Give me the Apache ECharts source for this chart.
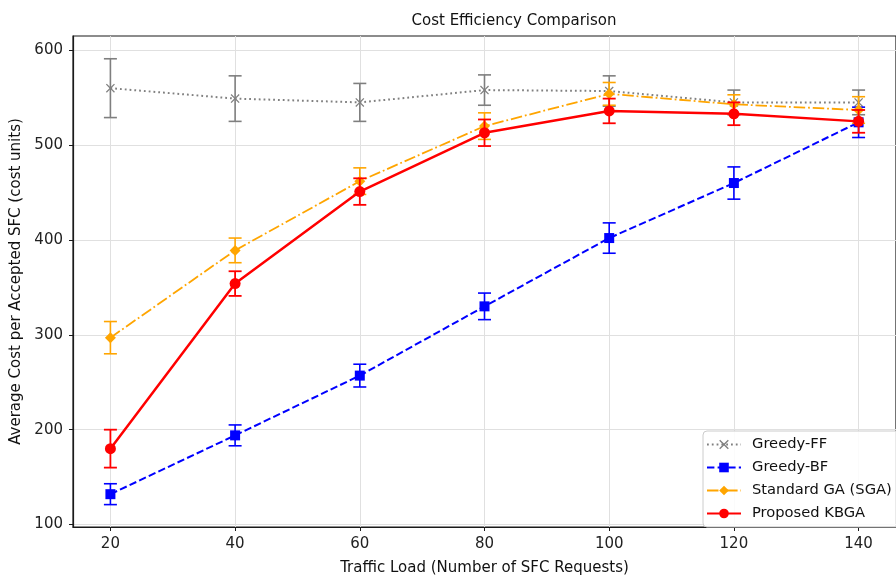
<!DOCTYPE html>
<html>
<head>
<meta charset="utf-8">
<script src="https://cdn.jsdelivr.net/npm/echarts@6/dist/echarts.min.js"></script>
<style>
  html, body { margin: 0; padding: 0; background: #fff; }
  #chart { width: 896px; height: 581px; }
</style>
</head>
<body>
<div id="chart"></div>
<script>
// traffic load (x) and tick values
const loads = [20, 40, 60, 80, 100, 120, 140];
const yTicks = [100, 200, 300, 400, 500, 600];

// mean cost per accepted SFC and error (+/-) per algorithm
const ffMean = [560, 549, 545, 558, 557, 545, 545];
const ffErr = [31, 24, 20, 16, 16, 13, 13];
const bfMean = [132, 194, 257, 330, 402, 460, 524];
const bfErr = [11, 11, 12, 14, 16, 17, 16];
const sgaMean = [297, 389, 462, 520, 554, 543, 537];
const sgaErr = [17, 13, 14, 14, 12, 10, 14];
const kbgaMean = [180, 354, 451, 513, 536, 533, 525];
const kbgaErr = [20, 13, 14, 14, 13, 12, 12];

const FONT = '"DejaVu Sans", sans-serif';
const X_SYMBOL = 'path://M0,1L1,0L5,4L9,0L10,1L6,5L10,9L9,10L5,6L1,10L0,9L4,5Z';

function pairs(ys) {
  return loads.map((x, i) => [x, ys[i]]);
}
function errData(ys, es) {
  return loads.map((x, i) => [x, ys[i] - es[i], ys[i] + es[i]]);
}

function errorSeries(name, ys, es, color, width, z) {
  return {
    name: name,
    type: 'custom',
    z: z,
    silent: true,
    data: errData(ys, es),
    encode: { x: 0, y: [1, 2] },
    renderItem: function (params, api) {
      const x = api.value(0);
      const top = api.coord([x, api.value(2)]);
      const bot = api.coord([x, api.value(1)]);
      const cap = 6.5;
      const style = { stroke: color, lineWidth: width, fill: null };
      return {
        type: 'group',
        children: [
          { type: 'line', shape: { x1: top[0], y1: top[1], x2: bot[0], y2: bot[1] }, style: style },
          { type: 'line', shape: { x1: top[0] - cap, y1: top[1], x2: top[0] + cap, y2: top[1] }, style: style },
          { type: 'line', shape: { x1: bot[0] - cap, y1: bot[1], x2: bot[0] + cap, y2: bot[1] }, style: style }
        ]
      };
    }
  };
}

function lineSeries(name, ys, color, width, dash, symbol, size, z) {
  return {
    name: name,
    type: 'line',
    z: z,
    data: pairs(ys),
    symbol: symbol,
    symbolSize: size,
    showSymbol: true,
    lineStyle: { color: color, width: width, type: dash },
    itemStyle: { color: color, borderWidth: 0, opacity: 1 },
    emphasis: { disabled: true },
    animation: false
  };
}

const chart = echarts.init(document.getElementById('chart'), null, { renderer: 'canvas' });

chart.setOption({
  animation: false,
  backgroundColor: '#fff',
  title: {
    text: 'Cost Efficiency Comparison',
    left: 509,
    top: 9,
    textAlign: 'center',
    textStyle: { fontFamily: FONT, fontSize: 15, fontWeight: 'normal', color: '#111' }
  },
  grid: {
    left: 73,
    top: 36,
    width: 833,
    height: 497,
    show: true,
    borderColor: '#1a1a1a',
    borderWidth: 1.2,
    backgroundColor: 'transparent'
  },
  legend: {
    orient: 'vertical',
    left: 703,
    top: 431,
    data: ['Greedy-FF', 'Greedy-BF', 'Standard GA (SGA)', 'Proposed KBGA'],
    itemWidth: 34,
    itemHeight: 12,
    itemGap: 8,
    padding: [6, 10, 6, 3],
    backgroundColor: 'rgba(255,255,255,0.85)',
    borderColor: '#cccccc',
    borderWidth: 1,
    borderRadius: 4,
    textStyle: { fontFamily: FONT, fontSize: 14.7, color: '#111', padding: [0, 0, 0, 6] }
  },
  xAxis: {
    type: 'value',
    min: 14,
    max: 146,
    name: 'Traffic Load (Number of SFC Requests)',
    nameLocation: 'middle',
    nameGap: 34,
    nameTextStyle: { fontFamily: FONT, fontSize: 15, color: '#111' },
    axisLine: { show: true, onZero: false, lineStyle: { color: '#1a1a1a', width: 1.2 } },
    axisTick: { show: true, length: 4, customValues: loads, lineStyle: { color: '#1a1a1a' } },
    axisLabel: { customValues: loads, margin: 10, fontFamily: FONT, fontSize: 15, color: '#222' },
    splitLine: { show: true, lineStyle: { color: '#e0e0e0', width: 1 } }
  },
  yAxis: {
    type: 'value',
    min: 97.4,
    max: 615,
    name: 'Average Cost per Accepted SFC (cost units)',
    nameLocation: 'middle',
    nameGap: 45,
    nameRotate: 90,
    nameTextStyle: { fontFamily: FONT, fontSize: 15, color: '#111' },
    axisLine: { show: true, lineStyle: { color: '#1a1a1a', width: 1.2 } },
    axisTick: { show: true, length: 4, customValues: yTicks, lineStyle: { color: '#1a1a1a' } },
    axisLabel: { customValues: yTicks, margin: 10, fontFamily: FONT, fontSize: 15, color: '#222' },
    splitLine: { show: true, lineStyle: { color: '#e0e0e0', width: 1 } }
  },
  series: [
    errorSeries('ff-err', ffMean, ffErr, '#7f7f7f', 1.6, 2),
    lineSeries('Greedy-FF', ffMean, '#808080', 2, [1.8, 3], X_SYMBOL, 9, 3),
    errorSeries('bf-err', bfMean, bfErr, '#0000ff', 1.6, 4),
    lineSeries('Greedy-BF', bfMean, '#0000ff', 2, [7.4, 3.2], 'rect', 10, 5),
    errorSeries('sga-err', sgaMean, sgaErr, '#ffa500', 1.6, 6),
    lineSeries('Standard GA (SGA)', sgaMean, '#ffa500', 1.8, [11.5, 2.9, 1.8, 2.9], 'diamond', 11, 7),
    errorSeries('kbga-err', kbgaMean, kbgaErr, '#ff0000', 1.8, 8),
    lineSeries('Proposed KBGA', kbgaMean, '#ff0000', 2.5, 'solid', 'circle', 11, 9)
  ]
});
</script>
</body>
</html>
